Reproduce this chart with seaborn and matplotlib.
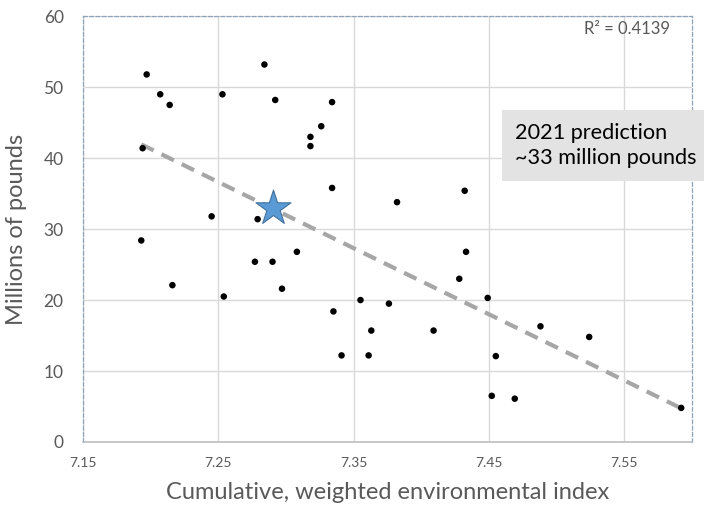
import numpy as np
import pandas as pd
import matplotlib
matplotlib.use("Agg")
import matplotlib.pyplot as plt
import seaborn as sns

# index values (x) and landings in millions of pounds (y)
env_index = [7.197, 7.207, 7.214, 7.194, 7.253, 7.284, 7.292, 7.334, 7.326, 7.318,
             7.318, 7.334, 7.382, 7.245, 7.279, 7.432, 7.193, 7.216, 7.254, 7.277,
             7.290, 7.308, 7.297, 7.335, 7.355, 7.376, 7.363, 7.341, 7.361, 7.433,
             7.428, 7.449, 7.409, 7.488, 7.524, 7.455, 7.452, 7.469, 7.592]
pounds = [51.8, 49.0, 47.5, 41.4, 49.0, 53.2, 48.2, 47.9, 44.5, 43.0,
          41.7, 35.8, 33.8, 31.8, 31.4, 35.4, 28.4, 22.1, 20.5, 25.4,
          25.4, 26.8, 21.6, 18.4, 20.0, 19.5, 15.7, 12.2, 12.2, 26.8,
          23.0, 20.3, 15.7, 16.3, 14.8, 12.1, 6.5, 6.1, 4.8]

pred_x = [7.29]
pred_y = [33.0]
r2_label = "R\u00b2 = 0.4139"
note = "2021 prediction\n~33 million pounds"

df = pd.DataFrame({"index": env_index, "pounds": pounds})

sns.set_style("white")
plt.rcParams["font.family"] = ["Lato", "DejaVu Sans"]

fig = plt.figure(figsize=(7.04, 5.08), dpi=100)
ax = fig.add_axes([0.118, 0.130, 0.865, 0.838])

ax.grid(True, color="#D9D9D9", lw=1)
ax.set_axisbelow(True)

sns.regplot(data=df, x="index", y="pounds", scatter=False, ci=None, ax=ax,
            line_kws=dict(color="#A6A6A6", lw=3, ls=(0, (3.3, 2.1))))
sns.scatterplot(data=df, x="index", y="pounds", color="black", s=22,
                edgecolor="none", ax=ax, zorder=3)
sns.scatterplot(x=pred_x, y=pred_y, marker="*", s=700, color="#5B9BD5",
                edgecolor="#41719C", linewidth=0.8, ax=ax, zorder=4)

ax.set_xlim(7.15, 7.60)
ax.set_ylim(0, 60)
ax.set_xticks([7.15, 7.25, 7.35, 7.45, 7.55])
ax.set_yticks(range(0, 61, 10))
ax.tick_params(axis="x", labelsize=10, colors="#595959", length=0, pad=11)
ax.tick_params(axis="y", labelsize=12.5, colors="#595959", length=0, pad=14)

ax.set_xlabel("Cumulative, weighted environmental index", fontsize=17,
              color="#595959", labelpad=9)
ax.set_ylabel("Millions of pounds", fontsize=17, color="#595959", labelpad=12)

for side in ["top", "right", "left"]:
    ax.spines[side].set_color("#8EA4BD")
    ax.spines[side].set_linestyle((0, (3, 2)))
    ax.spines[side].set_linewidth(0.9)
ax.spines["bottom"].set_color("#BFBFBF")
ax.spines["bottom"].set_linewidth(1.2)

ax.text(0.964, 0.99, r2_label, transform=ax.transAxes, ha="right", va="top",
        fontsize=12, color="#595959")

# note box runs off the right edge like the original, text itself stays inside
ax.text(7.469, 41.8, note, fontsize=15.6, color="black", va="center", ha="left",
        linespacing=1.3, clip_on=False,
        bbox=dict(boxstyle="square,pad=0.6", fc="#E3E3E3", ec="none"))

fig.savefig("out.png", dpi=100)
